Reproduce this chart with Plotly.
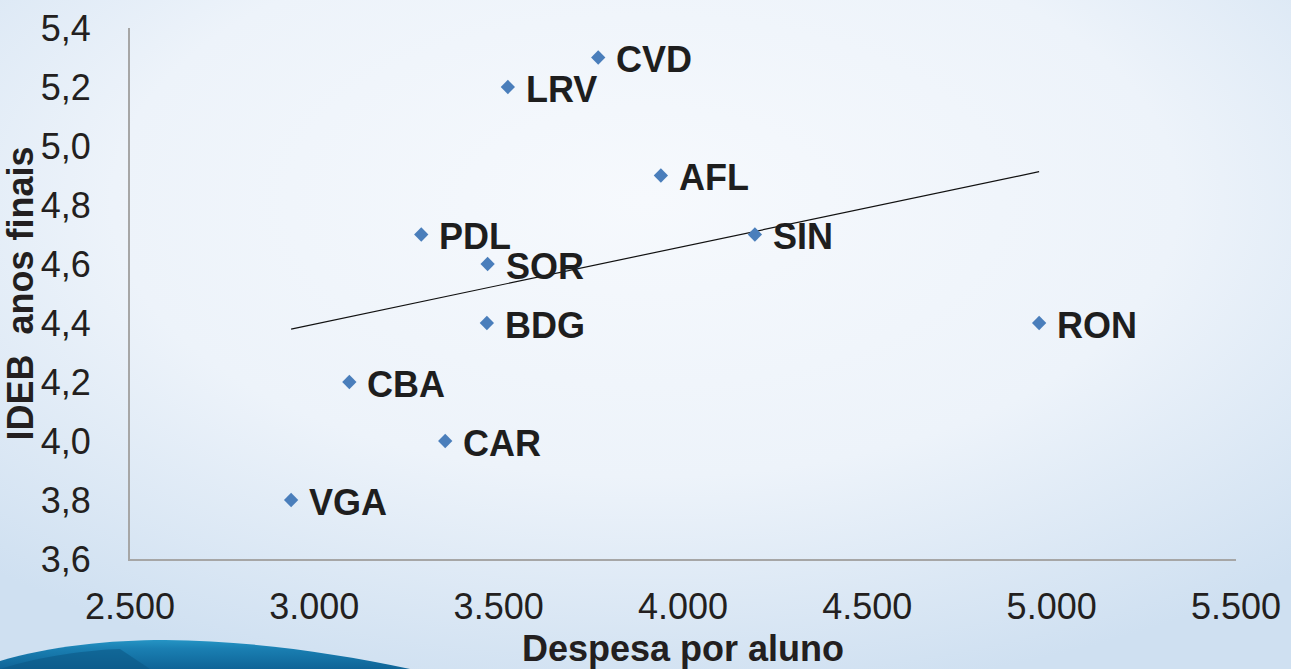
import base64
import numpy as np
import plotly.graph_objects as go

# ---- data ----
cities = ["CVD", "LRV", "AFL", "PDL", "SOR", "SIN", "BDG", "RON", "CBA", "CAR", "VGA"]
despesa = [3770, 3525, 3940, 3290, 3470, 4195, 3468, 4966, 3095, 3355, 2937]
ideb = [5.3, 5.2, 4.9, 4.7, 4.6, 4.7, 4.4, 4.4, 4.2, 4.0, 3.8]
x_ticks = [2500, 3000, 3500, 4000, 4500, 5000, 5500]
x_tick_labels = ["2.500", "3.000", "3.500", "4.000", "4.500", "5.000", "5.500"]
y_ticks = [3.6, 3.8, 4.0, 4.2, 4.4, 4.6, 4.8, 5.0, 5.2, 5.4]
y_tick_labels = ["3,6", "3,8", "4,0", "4,2", "4,4", "4,6", "4,8", "5,0", "5,2", "5,4"]

# linear trendline (least squares, as in the spreadsheet)
slope, intercept = np.polyfit(despesa, ideb, 1)
tx = [min(despesa), max(despesa)]
ty = [slope * v + intercept for v in tx]

W, H = 1291, 669
ML, MR, MT, MB = 130, 55, 28, 110
PW, PH = W - ML - MR, H - MT - MB

# background (gradient + swoosh) as an SVG image
svg = f'''<svg xmlns="http://www.w3.org/2000/svg" width="{W}" height="{H}" viewBox="0 0 {W} {H}" preserveAspectRatio="none">
<defs>
<radialGradient id="bg" cx="0.5" cy="0.3" r="0.75">
<stop offset="0" stop-color="#f6f9fd"/>
<stop offset="0.55" stop-color="#edf3fa"/>
<stop offset="1" stop-color="#cfe0f1"/>
</radialGradient>
<linearGradient id="sw" x1="0" y1="0" x2="0" y2="1">
<stop offset="0" stop-color="#2594c4"/>
<stop offset="0.3" stop-color="#1a7fb2"/>
<stop offset="1" stop-color="#0f6497"/>
</linearGradient>
</defs>
<rect width="{W}" height="{H}" fill="url(#bg)"/>
<path d="M0,661 C50,646 110,640 165,640 C250,641 330,652 410,669 L0,669 Z" fill="url(#sw)"/>
<path d="M0,669 C40,656 90,650 120,649 L150,669 Z" fill="#0b5584" opacity="0.55"/>
</svg>'''
bg_uri = "data:image/svg+xml;base64," + base64.b64encode(svg.encode()).decode()

FONT = "Liberation Sans, Arial"

fig = go.Figure()
fig.add_trace(go.Scatter(
    x=tx, y=ty, mode="lines",
    line=dict(color="#111111", width=1.2),
    hoverinfo="skip", showlegend=False,
))
fig.add_trace(go.Scatter(
    x=despesa, y=ideb, mode="markers",
    marker=dict(symbol="diamond", size=11, color="#4a7ebb"),
    showlegend=False,
))
for c, xv, yv in zip(cities, despesa, ideb):
    fig.add_annotation(
        x=xv, y=yv, text=c, showarrow=False,
        xanchor="left", yanchor="middle", xshift=16, yshift=-2,
        font=dict(family=FONT, size=36, color="#1e1e1e", weight="bold"),
    )

fig.update_layout(
    width=W, height=H,
    margin=dict(l=ML, r=MR, t=MT, b=MB),
    paper_bgcolor="#e4eef8",
    plot_bgcolor="rgba(0,0,0,0)",
    font=dict(family=FONT, size=36, color="#231f20"),
    images=[dict(source=bg_uri, xref="paper", yref="paper",
                 x=-ML / PW, y=1 + MT / PH,
                 sizex=W / PW, sizey=H / PH, xanchor="left", yanchor="top",
                 sizing="stretch", layer="below")],
    xaxis=dict(
        range=[2500, 5500], tickvals=x_ticks, ticktext=x_tick_labels,
        showgrid=False, zeroline=False, showline=True, automargin=False,
        linecolor="#a6a6a6", linewidth=2, ticks="", ticklabelstandoff=15,
        title=dict(text="<b>Despesa por aluno</b>", standoff=12,
                   font=dict(size=36, color="#231f20")),
    ),
    yaxis=dict(
        range=[3.6, 5.4], tickvals=y_ticks, ticktext=y_tick_labels,
        showgrid=False, zeroline=False, showline=True, automargin=False,
        linecolor="#a6a6a6", linewidth=2, ticks="", ticklabelstandoff=30,
        title=dict(text="<b>IDEB\u00a0 anos finais</b>", standoff=4,
                   font=dict(size=36, color="#231f20")),
    ),
)

post = ("document.body.style.margin='0';"
        "document.documentElement.style.overflow='hidden';"
        "document.body.style.overflow='hidden';")
fig.write_html("out.html", post_script=post,
               config={"displayModeBar": False})
